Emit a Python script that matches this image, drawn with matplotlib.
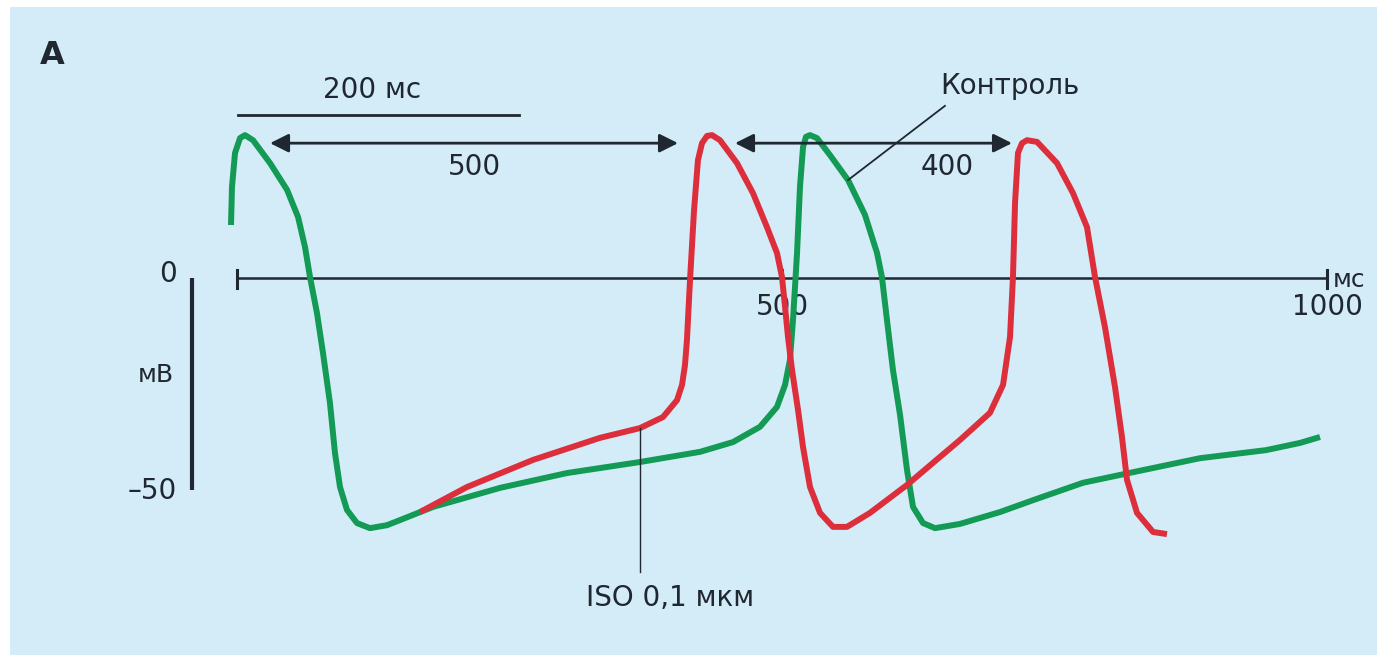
import numpy as np
import matplotlib
matplotlib.use("Agg")
import matplotlib.pyplot as plt
from matplotlib.patches import Rectangle

# control (green) action potentials: time in ms, potential in mV
ctrl_t = [-5.5, -4.6, -1.8, 2.8, 7.3, 14.7, 30.3, 45.9, 56.0, 62.4, 67.0, 73.4, 78.9,
          85.3, 89.9, 94.5, 100.9, 110.1, 122.0, 137.6, 149.5, 179.8, 241.3, 302.8,
          369.7, 424.8, 455.0, 479.8, 495.4, 502.8, 507.3, 510.1, 513.8, 516.5, 519.3,
          522.0, 525.7, 532.1, 544.0, 560.6, 576.1, 587.2, 591.7, 596.3, 601.8, 608.3,
          614.7, 620.2, 629.4, 640.4, 663.3, 700.0, 730.3, 776.1, 822.0, 883.5, 944.0,
          975.2, 993.6]
ctrl_v = [12.5, 21.5, 29.5, 33.0, 33.7, 32.5, 27.1, 20.8, 14.4, 7.3, 0.2, -8.3, -17.7,
          -29.5, -41.3, -49.3, -54.7, -57.8, -59.0, -58.3, -57.1, -54.0, -49.5, -46.0,
          -43.4, -41.0, -38.7, -35.1, -30.4, -25.2, -19.3, -9.9, 5.9, 21.5, 30.9,
          33.3, 33.7, 33.0, 29.0, 23.1, 14.9, 5.9, 0.2, -9.9, -21.7, -32.3,
          -45.3, -54.0, -57.8, -59.0, -58.0, -55.2, -52.4, -48.3, -45.8, -42.5, -40.6,
          -38.9, -37.5]

# ISO 0.1 uM (red)
iso_t = [167.9, 211.0, 271.6, 333.0, 369.7, 390.8, 403.7, 408.3, 411.0, 412.8, 415.6,
         419.3, 422.9, 426.6, 431.2, 435.8, 443.1, 458.7, 473.4, 486.2, 495.4, 500.0,
         502.8, 505.5, 509.2, 514.7, 519.3, 525.7, 534.9, 546.8, 559.6, 580.7, 614.7,
         638.5, 663.3, 690.8, 702.8, 709.2, 711.9, 713.8, 716.5, 720.2, 724.8, 734.0,
         752.3, 767.0, 779.8, 787.2, 796.3, 805.5, 811.9, 816.5, 825.7, 840.4, 853.2]
iso_v = [-55.2, -49.3, -42.9, -37.7, -35.4, -32.8, -28.8, -25.2, -20.5, -14.6, -0.5,
         16.0, 27.8, 31.8, 33.5, 33.7, 32.5, 27.1, 20.0, 12.0, 5.9, 0.2,
         -6.8, -13.9, -21.7, -31.1, -39.9, -49.3, -55.4, -58.7, -58.7, -55.4, -48.8,
         -43.6, -38.2, -31.8, -25.2, -13.9, 0.2, 17.7, 29.5, 31.8, 32.5, 32.1,
         27.1, 20.0, 12.0, 0.2, -11.6, -25.7, -37.5, -47.6, -55.4, -59.9, -60.4]

x_ticks = [0, 500, 1000]
x_tick_labels = ['', '500', '1000']

green = '#139a55'
red = '#dc2f3b'
ink = '#1f2730'
bg = '#d4ecf8'

fig = plt.figure(figsize=(13.8, 6.58), dpi=100)
fig.patch.set_facecolor('white')
fig.patches.append(Rectangle((10 / 1380, 3 / 658), 1367 / 1380, 648 / 658,
                             transform=fig.transFigure, facecolor=bg,
                             edgecolor='none', zorder=-10))

ax = fig.add_axes([0, 0, 1, 1])
ax.set_facecolor('none')
ax.set_xlim(-237 / 1.09, (1380 - 237) / 1.09)
ax.set_ylim((278 - 658) / 4.24, 278 / 4.24)
ax.axis('off')

plt.rcParams['font.family'] = ['DejaVu Sans']
fs = 20

# time axis
ax.plot([0, 1000], [0, 0], color=ink, lw=1.8, zorder=2)
for t in x_ticks:
    ax.plot([t, t], [2.0, -2.4], color=ink, lw=2.2, zorder=2)
for t, lab in zip(x_ticks, x_tick_labels):
    ax.text(t, -6.8, lab, ha='center', va='center', fontsize=fs, color=ink)
ax.text(1005, -0.5, 'мс', ha='left', va='center', fontsize=fs - 2, color=ink)

# voltage scale bar
ax.plot([-41.3, -41.3], [0, -50], color=ink, lw=3, solid_capstyle='butt')
ax.text(-55, 0.9, '0', ha='right', va='center', fontsize=fs, color=ink)
ax.text(-58, -22.9, 'мВ', ha='right', va='center', fontsize=fs - 2, color=ink)
ax.text(-55, -50.2, '–50', ha='right', va='center', fontsize=fs, color=ink)

# curves
ax.plot(ctrl_t, ctrl_v, color=green, lw=4.3, solid_joinstyle='round',
        solid_capstyle='butt', zorder=3)
ax.plot(iso_t, iso_v, color=red, lw=4.3, solid_joinstyle='round',
        solid_capstyle='butt', zorder=4)

# 200 ms scale bar
ax.plot([0.9, 258.7], [38.4, 38.4], color=ink, lw=2)
ax.text(123.9, 44.3, '200 мс', ha='center', va='center', fontsize=fs, color=ink)

# interval arrows
arrow = dict(arrowstyle='<|-|>', color=ink, lw=2, mutation_scale=28,
             shrinkA=0, shrinkB=0)
ax.annotate('', xy=(30.3, 31.8), xytext=(404.6, 31.8), arrowprops=arrow)
ax.annotate('', xy=(456.9, 31.8), xytext=(711.0, 31.8), arrowprops=arrow)
ax.text(217.4, 26.2, '500', ha='center', va='center', fontsize=fs, color=ink)
ax.text(651.4, 26.2, '400', ha='center', va='center', fontsize=fs, color=ink)

# labels with leader lines
ax.plot([649.5, 560.6], [40.6, 23.1], color=ink, lw=1.3, zorder=5)
ax.text(709.2, 45.3, 'Контроль', ha='center', va='center', fontsize=fs, color=ink)
ax.plot([369.7, 369.7], [-35.4, -69.3], color=ink, lw=1.0, zorder=5)
ax.text(397.2, -75.5, 'ISO 0,1 мкм', ha='center', va='center', fontsize=fs, color=ink)

ax.text(-169.7, 52.4, 'A', ha='center', va='center', fontsize=23,
        fontweight='bold', color=ink)

fig.savefig('out.png', dpi=100, facecolor=fig.get_facecolor())
